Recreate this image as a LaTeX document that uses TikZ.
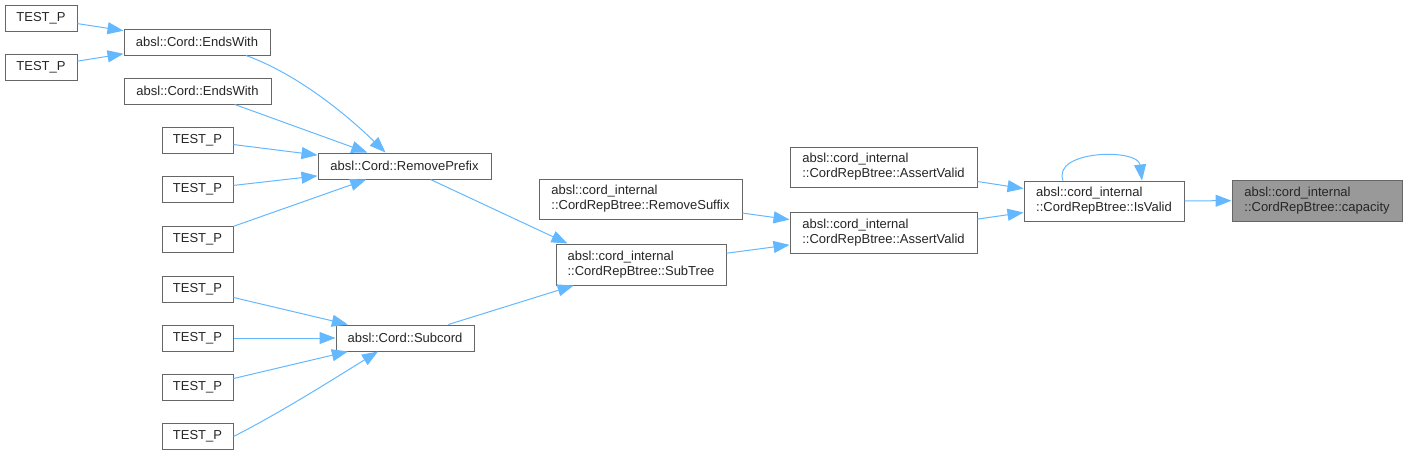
\documentclass[tikz,border=0pt]{standalone}
\usepackage{fontspec}
\setmainfont{Liberation Sans}
\usetikzlibrary{arrows.meta,calc}
\definecolor{edgeblue}{HTML}{63B8FF}
\definecolor{boxgray}{HTML}{666666}
\definecolor{capfill}{HTML}{999999}
\tikzset{
  box/.style={draw=boxgray, line width=1pt, fill=white, inner sep=0pt, align=left,
    font=\fontsize{13}{15}\selectfont, text=black!85},
  edge/.style={draw=edgeblue, line width=1pt, -{Triangle[length=16pt,width=12pt,fill=edgeblue]}},
}
\begin{document}
\begin{tikzpicture}[x=1pt,y=-1pt]
\useasboundingbox (0,0) rectangle (1407,455);
% nodes
\node[box, minimum width=72, minimum height=26] (t1) at (41,18) {TEST\_P};
\node[box, minimum width=72, minimum height=26] (t2) at (41,67) {TEST\_P};
\node[box, minimum width=146, minimum height=26] (ew1) at (197,42) {absl::Cord::EndsWith};
\node[box, minimum width=147, minimum height=26] (ew2) at (197.5,91) {absl::Cord::EndsWith};
\node[box, minimum width=71, minimum height=26] (t3) at (197.5,140) {TEST\_P};
\node[box, minimum width=71, minimum height=26] (t4) at (197.5,189.5) {TEST\_P};
\node[box, minimum width=71, minimum height=26] (t5) at (197.5,239) {TEST\_P};
\node[box, minimum width=173, minimum height=26] (rp) at (404.5,166) {absl::Cord::RemovePrefix};
\node[box, minimum width=71, minimum height=26] (t6) at (197.5,289) {TEST\_P};
\node[box, minimum width=71, minimum height=26] (t7) at (197.5,338) {TEST\_P};
\node[box, minimum width=71, minimum height=26] (t8) at (197.5,387) {TEST\_P};
\node[box, minimum width=71, minimum height=26] (t9) at (197.5,436.5) {TEST\_P};
\node[box, minimum width=138, minimum height=26] (sc) at (405,338) {absl::Cord::Subcord};
\node[box, minimum width=203, minimum height=40] (rs) at (640.5,199) {absl::cord\_internal\\::CordRepBtree::RemoveSuffix};
\node[box, minimum width=170, minimum height=41] (st) at (641,264.5) {absl::cord\_internal\\::CordRepBtree::SubTree};
\node[box, minimum width=187, minimum height=40] (av1) at (883.5,167) {absl::cord\_internal\\::CordRepBtree::AssertValid};
\node[box, minimum width=187, minimum height=41] (av2) at (883.5,232.5) {absl::cord\_internal\\::CordRepBtree::AssertValid};
\node[box, minimum width=160, minimum height=40] (iv) at (1104,201) {absl::cord\_internal\\::CordRepBtree::IsValid};
\node[box, fill=capfill, minimum width=170, minimum height=41] (cap) at (1317,200.5) {absl::cord\_internal\\::CordRepBtree::capacity};
% edges
\draw[edge] (t1) -- (ew1);
\draw[edge] (t2) -- (ew1);
\draw[edge] ($(ew1.south)+(49,0)$) .. controls (300,75) and (350,118) .. ($(rp.north)+(-19,0)$);
\draw[edge] (ew2) -- (rp);
\draw[edge] (t3) -- (rp);
\draw[edge] (t4) -- (rp);
\draw[edge] (t5) -- (rp);
\draw[edge] ($(rp.south)+(26,0)$) -- ($(st.north west)+(12,0)$);
\draw[edge] (sc) -- (st);
\draw[edge] (t6) -- (sc);
\draw[edge] (t7) -- (sc);
\draw[edge] (t8) -- (sc);
\draw[edge] (t9.east) .. controls (280,413) and (340,375) .. ($(sc.south)+(-27,0)$);
\draw[edge] (rs) -- (av2);
\draw[edge] (st) -- (av2);
\draw[edge] (av1) -- (iv);
\draw[edge] (av2) -- (iv);
\draw[edge] ($(iv.north)+(-41,0)$) .. controls (1052,150) and (1138,148) .. ($(iv.north)+(38,0)$);
\draw[edge] (iv) -- (cap);
\end{tikzpicture}
\end{document}
